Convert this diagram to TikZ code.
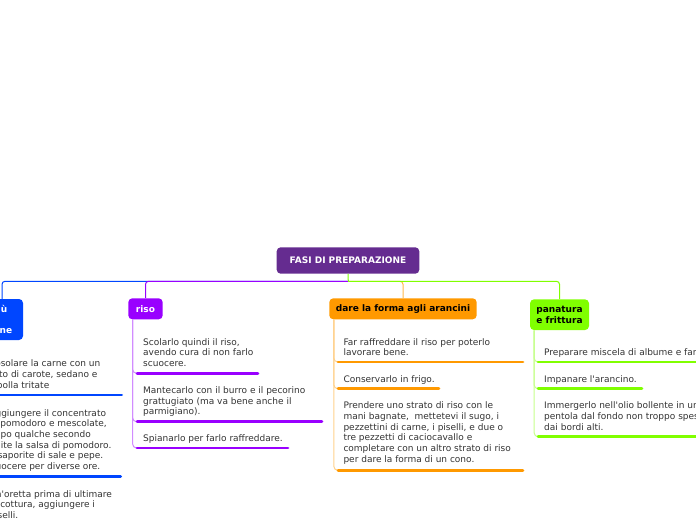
\documentclass[tikz,border=0pt]{standalone}
\usepackage{fontspec}
\setmainfont{DejaVu Sans}
\usetikzlibrary{calc}

\definecolor{rootcol}{HTML}{652C90}
\definecolor{ragucol}{HTML}{0046FF}
\definecolor{risocol}{HTML}{9900FF}
\definecolor{formacol}{HTML}{FF9900}
\definecolor{panacol}{HTML}{80FF00}
\definecolor{leaftext}{HTML}{333333}

\tikzset{
  topic/.style={rounded corners=4pt, inner sep=0pt, align=left,
    font=\fontsize{9}{10.7}\selectfont\bfseries},
  leaf/.style={anchor=north west, inner sep=0pt, align=left, text=leaftext,
    font=\fontsize{9}{10.7}\selectfont},
  hub/.style={line width=1pt, rounded corners=3pt},
  stem/.style={line width=1pt, rounded corners=4pt},
  under/.style={line width=2.8pt, line cap=round}
}

\begin{document}
\begin{tikzpicture}[x=1pt,y=-1pt]
    \useasboundingbox (0,0) rectangle (696,520);

    \node[topic,fill=rootcol,text=white,minimum width=142.6pt,minimum height=26.4pt] (root) at (348,260.5) {FASI DI PREPARAZIONE};

    \node[topic,fill=ragucol,text=white,minimum width=50pt,minimum height=41pt]    (ragu)  at (-2,319.5)    {ragù\\di\\carne};
    \node[topic,fill=risocol,text=white,minimum width=34.4pt,minimum height=21pt]  (riso)  at (145.5,308.8) {riso};
    \node[topic,fill=formacol,text=black,minimum width=147.4pt,minimum height=21pt] (forma) at (403,308.8)  {dare la forma agli arancini};
    \node[topic,fill=panacol,text=black,minimum width=59pt,minimum height=30.7pt]  (pana)  at (559.5,314.7) {panatura\\e frittura};

    % rami dalla radice
    \coordinate (hub) at (348.3,281.3);
    \draw[hub,ragucol]  (hub) -| ($(ragu.north)+(4,0)$);
    \draw[hub,risocol]  (hub) -| (riso.north);
    \draw[hub,formacol!70] (hub) -| (forma.north);
    \draw[hub,panacol]  (hub) -| (pana.north);
    \draw[hub,panacol]  (root.south) -- (hub);

    % il ragu
    \node[leaf] (g1) at (-10.8,359.7) {Rosolare la carne con un\\trito di carote, sedano e\\cipolla tritate};
    \node[leaf] (g2) at (-10.8,409)   {Aggiungere il concentrato\\di pomodoro e mescolate,\\dopo qualche secondo\\unite la salsa di pomodoro.\\Insaporite di sale e pepe.\\Cuocere per diverse ore.};
    \node[leaf] (g3) at (-10.8,490)   {Un\textquotesingle oretta prima di ultimare\\la cottura, aggiungere i\\piselli.};
    \coordinate (g1a) at (-18.5,395);   \coordinate (g1b) at (121.7,395);
    \coordinate (g2a) at (-18.5,476.7); \coordinate (g2b) at (120.7,476.7);
    \coordinate (g3a) at (-18.5,527);   \coordinate (g3b) at (120.7,527);
    \foreach \k in {g1a,g2a,g3a}
        \draw[stem,ragucol!45] ($(ragu.south west)+(4.5,0)$) |- (\k);
    \draw[under,ragucol] (g1a) -- (g1b);
    \draw[under,ragucol] (g2a) -- (g2b);
    \draw[under,ragucol] (g3a) -- (g3b);

    % riso
    \node[leaf] (r1) at (143,338)   {Scolarlo quindi il riso,\\avendo cura di non farlo\\scuocere.};
    \node[leaf] (r2) at (143,386.4) {Mantecarlo con il burro e il pecorino\\grattugiato (ma va bene anche il\\parmigiano).};
    \node[leaf] (r3) at (143,434.7) {Spianarlo per farlo raffreddare.};
    \coordinate (r1a) at (137,373.3); \coordinate (r1b) at (258,373.3);
    \coordinate (r2a) at (137,421.7); \coordinate (r2b) at (322,421.7);
    \coordinate (r3a) at (137,448);   \coordinate (r3b) at (288,448);
    \foreach \k in {r1a,r2a,r3a}
        \draw[stem,risocol!45] ($(riso.south west)+(4.5,0)$) |- (\k);
    \draw[under,risocol] (r1a) -- (r1b);
    \draw[under,risocol] (r2a) -- (r2b);
    \draw[under,risocol] (r3a) -- (r3b);

    % forma
    \node[leaf] (f1) at (343.3,338)   {Far raffreddare il riso per poterlo\\lavorare bene.};
    \node[leaf] (f2) at (343.3,375.7) {Conservarlo in frigo.};
    \node[leaf] (f3) at (343.3,401.7) {Prendere uno strato di riso con le\\mani bagnate,\ \ mettetevi il sugo, i\\pezzettini di carne, i piselli, e due o\\tre pezzetti di caciocavallo e\\completare con un altro strato di riso\\per dare la forma di un cono.};
    \coordinate (f1a) at (338,362);   \coordinate (f1b) at (523,362);
    \coordinate (f2a) at (338,388.7); \coordinate (f2b) at (439,388.7);
    \coordinate (f3a) at (338,470.3); \coordinate (f3b) at (523,470.3);
    \foreach \k in {f1a,f2a,f3a}
        \draw[stem,formacol!45] ($(forma.south west)+(4.7,0)$) |- (\k);
    \draw[under,formacol] (f1a) -- (f1b);
    \draw[under,formacol] (f2a) -- (f2b);
    \draw[under,formacol] (f3a) -- (f3b);

    % panatura
    \node[leaf] (p1) at (544,348.4) {Preparare miscela di albume e farina.};
    \node[leaf] (p2) at (544,375.7) {Impanare l\textquotesingle arancino.};
    \node[leaf] (p3) at (544,401.7) {Immergerlo nell\textquotesingle olio bollente in una\\pentola dal fondo non troppo spesso e\\dai bordi alti.};
    \coordinate (p1a) at (538,362);   \coordinate (p1b) at (730,362);
    \coordinate (p2a) at (538,388.7); \coordinate (p2b) at (642,388.7);
    \coordinate (p3a) at (538,436.7); \coordinate (p3b) at (730,436.7);
    \foreach \k in {p1a,p2a,p3a}
        \draw[stem,panacol!45] ($(pana.south west)+(4.3,0)$) |- (\k);
    \draw[under,panacol] (p1a) -- (p1b);
    \draw[under,panacol] (p2a) -- (p2b);
    \draw[under,panacol] (p3a) -- (p3b);
\end{tikzpicture}
\end{document}
